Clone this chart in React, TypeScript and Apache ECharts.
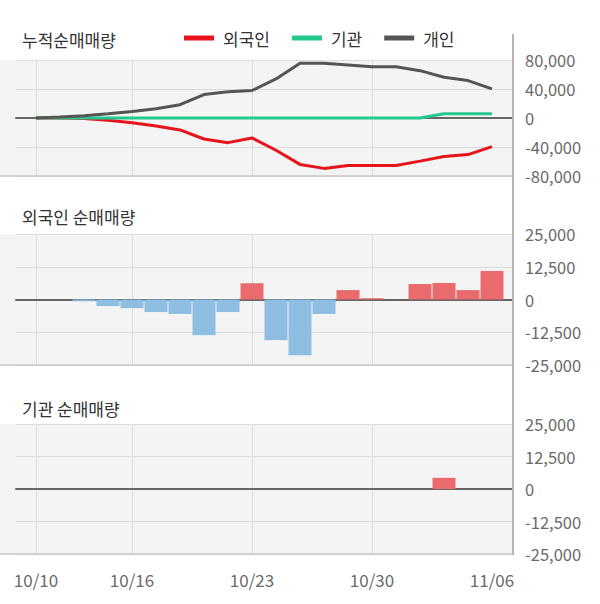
import React, { useEffect, useRef } from "react";
import * as echarts from "echarts";

const dates = [
  "10/10", "10/11", "10/12", "10/13", "10/16", "10/17", "10/18", "10/19", "10/20",
  "10/23", "10/24", "10/25", "10/26", "10/27", "10/30", "10/31", "11/01", "11/02",
  "11/03", "11/06",
];
const labelIdx = [0, 4, 9, 14, 19];
const gridIdx = [0, 4, 9, 14];

const cumForeign = [0, 0, -800, -3200, -6500, -11000, -16500, -29000, -34000, -27500, -44500, -64000, -69500, -65500, -65500, -65500, -59500, -53000, -50500, -39500];
const cumInst = [0, 0, 0, 0, 0, 0, 0, 0, 0, 0, 0, 0, 0, 0, 0, 0, 0, 6000, 6000, 6000];
const cumIndiv = [0, 1400, 3200, 6000, 9100, 12800, 18300, 32400, 36100, 37900, 53900, 75400, 75400, 73100, 70800, 70800, 65300, 56200, 51600, 40200];

const dailyForeign = [0, 0, -700, -2500, -3300, -4800, -5500, -13600, -4800, 6200, -15500, -21300, -5500, 3600, 500, 0, 5900, 6300, 3600, 10900];
const dailyInst = [0, 0, 0, 0, 0, 0, 0, 0, 0, 0, 0, 0, 0, 0, 0, 0, 0, 4300, 0, 0];

const FONT = '"Noto Sans CJK KR", "Noto Sans", sans-serif';
const RED = "#e8141c";
const GREEN = "#25c88c";
const GREY = "#555555";
const BAR_RED = "#ea6b6e";
const BAR_BLUE = "#8dbde1";
const BG = "#f4f4f4";

const PLOT_RIGHT = 513;
const grids = [
  { top: 60, height: 116 },
  { top: 234, height: 131 },
  { top: 424, height: 130 },
];

function fmt(v: number) {
  return v.toLocaleString("en-US");
}

export default function App() {
  const ref = useRef<HTMLDivElement>(null);
  useEffect(() => {
    if (!ref.current) return;
    const chart = echarts.init(ref.current, null, { renderer: "svg" });
    const xMin = -20 / 24;
    const xMax = 19.875;

    const xAxes = grids.map((g, k) => ({
      type: "value" as const,
      gridIndex: k,
      min: xMin,
      max: xMax,
      axisLine: { show: true, onZero: true, lineStyle: { color: "#666", width: 2 } },
      axisTick: { show: false, customValues: gridIdx },
      splitLine: { show: true, lineStyle: { color: "#dcdcdc", width: 1 } },
      axisLabel: {
        show: k === 2,
        customValues: labelIdx,
        formatter: (v: number) => dates[Math.round(v)] ?? "",
        color: "#6a6a6a",
        fontSize: 17,
        fontFamily: FONT,
        margin: 17,
      },
    }));

    const yAxes = grids.map((g, k) => ({
      type: "value" as const,
      gridIndex: k,
      position: "right" as const,
      min: k === 0 ? -80000 : -25000,
      max: k === 0 ? 80000 : 25000,
      interval: k === 0 ? 40000 : 12500,
      axisLine: { show: false },
      axisTick: { show: false },
      splitLine: { show: true, lineStyle: { color: "#dcdcdc", width: 1 } },
      axisLabel: {
        color: "#6a6a6a",
        fontSize: 16.5,
        fontFamily: FONT,
        margin: 12,
        formatter: (v: number) => fmt(v),
      },
    }));

    const toPairs = (arr: number[]) => arr.map((v, i) => [i, v]);
    const barColor = (p: any) => (p.value[1] >= 0 ? BAR_RED : BAR_BLUE);

    const graphics: any[] = [];
    grids.forEach((g) => {
      graphics.push({
        type: "rect",
        z: -10,
        silent: true,
        shape: { x: 0, y: g.top, width: 16, height: g.height },
        style: { fill: BG },
      });
      graphics.push({
        type: "line",
        z: 10,
        silent: true,
        shape: { x1: 0, y1: g.top + g.height, x2: PLOT_RIGHT, y2: g.top + g.height },
        style: { stroke: "#c8c8c8", lineWidth: 1.5 },
      });
    });
    graphics.push({
      type: "line",
      z: 10,
      silent: true,
      shape: { x1: PLOT_RIGHT, y1: 34, x2: PLOT_RIGHT, y2: 555 },
      style: { stroke: "#b4b4b4", lineWidth: 2 },
    });

    const titleStyle = { fontSize: 17, fontWeight: "normal" as const, color: "#333", fontFamily: FONT };

    chart.setOption({
      animation: false,
      backgroundColor: "#fff",
      title: [
        { text: "누적순매매량", left: 22, top: 31, padding: 0, textStyle: titleStyle },
        { text: "외국인 순매매량", left: 22, top: 208, padding: 0, textStyle: titleStyle },
        { text: "기관 순매매량", left: 22, top: 400, padding: 0, textStyle: titleStyle },
      ],
      legend: {
        data: ["외국인", "기관", "개인"],
        left: 184,
        top: 29,
        padding: 0,
        icon: "rect",
        itemWidth: 30,
        itemHeight: 5,
        itemGap: 22,
        textStyle: { fontSize: 17, color: "#333", fontFamily: FONT, padding: [0, 0, 0, 4], lineHeight: 18 },
      },
      grid: grids.map((g) => ({
        left: 16,
        right: 600 - PLOT_RIGHT,
        top: g.top,
        height: g.height,
        show: true,
        backgroundColor: BG,
        borderWidth: 0,
      })),
      xAxis: xAxes,
      yAxis: yAxes,
      graphic: graphics,
      series: [
        {
          name: "외국인",
          type: "line",
          xAxisIndex: 0,
          yAxisIndex: 0,
          data: toPairs(cumForeign),
          showSymbol: false,
          lineStyle: { color: RED, width: 3 },
          itemStyle: { color: RED },
        },
        {
          name: "기관",
          type: "line",
          xAxisIndex: 0,
          yAxisIndex: 0,
          data: toPairs(cumInst),
          showSymbol: false,
          lineStyle: { color: GREEN, width: 3 },
          itemStyle: { color: GREEN },
        },
        {
          name: "개인",
          type: "line",
          xAxisIndex: 0,
          yAxisIndex: 0,
          data: toPairs(cumIndiv),
          showSymbol: false,
          lineStyle: { color: GREY, width: 3 },
          itemStyle: { color: GREY },
        },
        {
          name: "외국인 순매매",
          type: "bar",
          xAxisIndex: 1,
          yAxisIndex: 1,
          data: toPairs(dailyForeign),
          barWidth: 23,
          itemStyle: { color: barColor },
        },
        {
          name: "기관 순매매",
          type: "bar",
          xAxisIndex: 2,
          yAxisIndex: 2,
          data: toPairs(dailyInst),
          barWidth: 23,
          itemStyle: { color: barColor },
        },
      ],
    });
    return () => chart.dispose();
  }, []);

  return (
    <div
      ref={ref}
      style={{ position: "absolute", left: 0, top: 0, width: 600, height: 604 }}
    />
  );
}
